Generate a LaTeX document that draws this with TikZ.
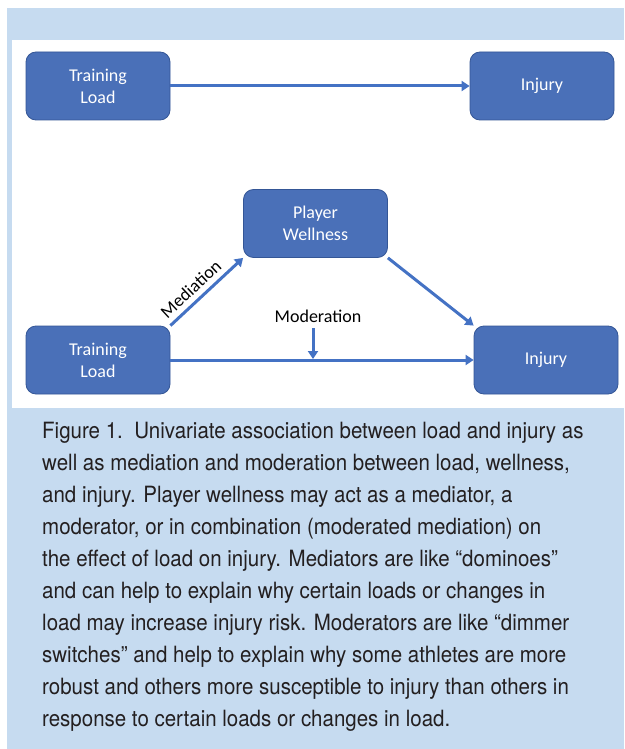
\documentclass[tikz,border=0pt]{standalone}
\usepackage{fontspec}
\setmainfont{Carlito}
\newfontfamily\captionfont[FakeStretch=0.915]{TeX Gyre Heros}
\usetikzlibrary{arrows.meta}

\definecolor{panelblue}{RGB}{198,219,240}
\definecolor{boxblue}{RGB}{74,112,184}
\definecolor{boxline}{RGB}{52,86,150}
\definecolor{arrowblue}{RGB}{68,114,196}
\definecolor{captext}{RGB}{35,31,32}

\begin{document}
\begin{tikzpicture}[x=1pt, y=-1pt,
  box/.style={draw=boxline, line width=0.8pt, fill=boxblue, rounded corners=10pt,
    minimum width=144pt, minimum height=68pt, inner sep=0pt, align=center,
    text=white, font=\fontsize{18}{22}\selectfont},
  arr/.style={draw=arrowblue, line width=3pt, -{Triangle[length=8pt, width=10pt]}},
  lbl/.style={font=\fontsize{18}{22}\selectfont},
  captionline/.style={anchor=base west, inner sep=0pt, text=captext,
    font=\captionfont\fontsize{22.4}{32}\selectfont}]

  \useasboundingbox (0,0) rectangle (624,749);
  \fill[panelblue] (7,8) rectangle (624,749);
  \fill[white] (12,40) rectangle (624,408);

  % univariate model
  \node[box] (load1)   at (98,86)  {Training\\Load};
  \node[box] (injury1) at (542,86) {Injury};
  \draw[arr] (load1.east) -- (injury1.west);

  % mediation and moderation model
  \node[box] (wellness) at (315.5,223.5) {Player\\Wellness};
  \node[box] (load2)    at (98,360)      {Training\\Load};
  \node[box] (injury2)  at (546,360)     {Injury};

  \draw[arr] (load2.north east) -- node[lbl, sloped, above, pos=0.4, inner sep=5pt] {Mediation} (wellness.south west);
  \draw[arr] (wellness.south east) -- (injury2.north west);
  \draw[arr] (load2.east) -- (injury2.west);

  \node[lbl] (moderation) at (318,316) {Moderation};
  \coordinate (modtop) at (313,328);
  \coordinate (modtip) at (313,359);
  \draw[arr] (modtop) -- (modtip);

  % caption
  \foreach \txt [count=\i] in {
    {Figure 1.\ \ Univariate association between load and injury as},
    {well as mediation and moderation between load, wellness,},
    {and injury. Player wellness may act as a mediator, a},
    {moderator, or in combination (moderated mediation) on},
    {the effect of load on injury. Mediators are like “dominoes”},
    {and can help to explain why certain loads or changes in},
    {load may increase injury risk. Moderators are like “dimmer},
    {switches” and help to explain why some athletes are more},
    {robust and others more susceptible to injury than others in},
    {response to certain loads or changes in load.}}
    \node[captionline] (caption\i) at (42,{438+32*(\i-1)}) {\txt};
\end{tikzpicture}
\end{document}
